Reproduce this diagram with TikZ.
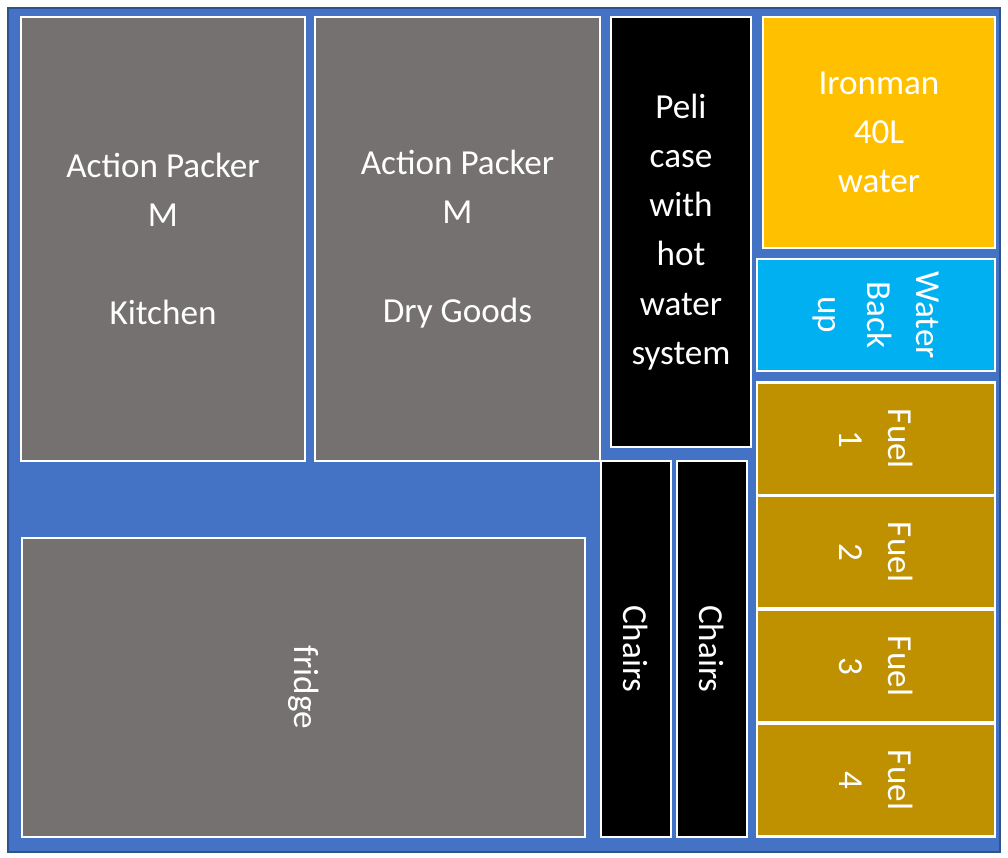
\documentclass[tikz,border=0pt]{standalone}
\usepackage{fontspec}
\setmainfont{Carlito}
\definecolor{bgblue}{HTML}{4472C4}
\definecolor{edgeblue}{HTML}{2F528F}
\definecolor{packgray}{HTML}{767171}
\definecolor{ironyellow}{HTML}{FFC000}
\definecolor{waterblue}{HTML}{00B0F0}
\definecolor{fuelgold}{HTML}{BF9000}
\tikzset{
  box/.style={draw=white, line width=1.2pt, inner sep=0pt, text=white,
    align=center, font=\fontsize{20}{28}\selectfont},
}
\begin{document}
\begin{tikzpicture}[x=0.02cm, y=-0.02cm]
  \useasboundingbox (0,0) rectangle (1008,858);
  \draw[fill=bgblue, draw=edgeblue, line width=1.2pt] (8,8) rectangle (1000,852);
  % packers
  \node[box, fill=packgray, minimum width=5.68cm, minimum height=8.88cm] (kitchen) at (163,239) {Action Packer\\M\\[28pt]Kitchen};
  \node[box, fill=packgray, minimum width=5.7cm, minimum height=8.88cm] (dry) at (457.5,239) {Action Packer\\M\\[28pt]Dry Goods};
  \node[box, fill=black, minimum width=2.8cm, minimum height=8.6cm] (peli) at (681,232) {Peli\\case\\with\\hot\\water\\system};
  \node[box, fill=ironyellow, minimum width=4.64cm, minimum height=4.62cm] (ironman) at (879,132.5) {Ironman\\40L\\water};
  \node[box, fill=waterblue, minimum width=4.76cm, minimum height=2.24cm] (backup) at (876,315) {};
  \node[text=white, rotate=-90, align=center, font=\fontsize{20}{28}\selectfont] at (backup.center) {Water\\Back\\up};
  % fuel
  \foreach \i/\yc in {1/439, 2/552, 3/666, 4/780} {
    \node[box, fill=fuelgold, minimum width=4.76cm, minimum height=2.26cm] (fuel\i) at (876,\yc) {};
    \node[text=white, rotate=-90, align=center, font=\fontsize{20}{28}\selectfont] at (fuel\i.center) {Fuel\\\i};
  }
  % fridge and chairs
  \node[box, fill=packgray, minimum width=11.26cm, minimum height=5.98cm] (fridge) at (303.5,687.5) {};
  \node[text=white, rotate=-90, font=\fontsize{20}{28}\selectfont] at (fridge.center) {fridge};
  \node[box, fill=black, minimum width=1.4cm, minimum height=7.52cm] (chairsA) at (636,649) {};
  \node[text=white, rotate=-90, font=\fontsize{20}{28}\selectfont] at (chairsA.center) {Chairs};
  \node[box, fill=black, minimum width=1.4cm, minimum height=7.52cm] (chairsB) at (712,649) {};
  \node[text=white, rotate=-90, font=\fontsize{20}{28}\selectfont] at (chairsB.center) {Chairs};
\end{tikzpicture}
\end{document}
